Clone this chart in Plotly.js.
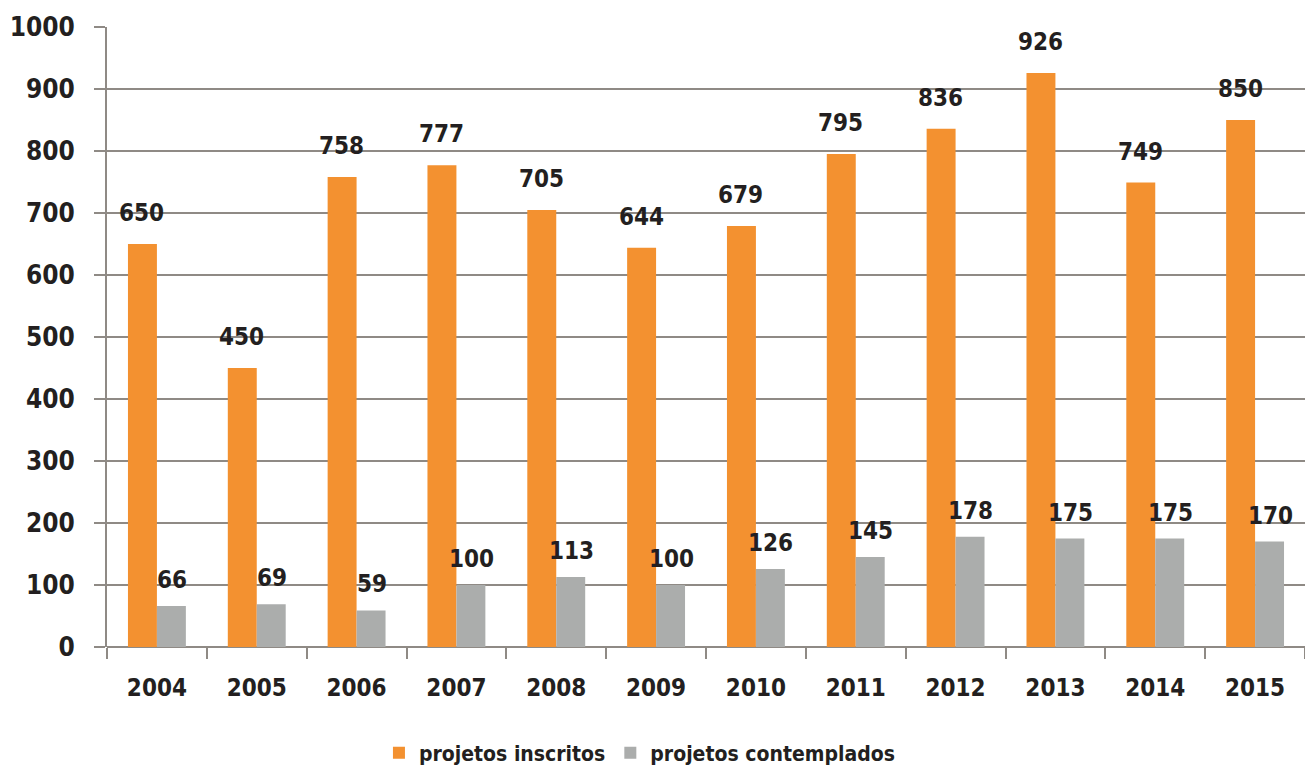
<!DOCTYPE html>
<html>
<head>
<meta charset="utf-8">
<script src="https://cdn.plot.ly/plotly-3.0.1.min.js"></script>
<style>html,body{margin:0;padding:0;background:#fff;}#chart{width:1305px;height:770px;}</style>
</head>
<body>
<div id="chart"></div>
<script>
var years = ['2004','2005','2006','2007','2008','2009','2010','2011','2012','2013','2014','2015'];
var inscritos = [650,450,758,777,705,644,679,795,836,926,749,850];
var contemplados = [66,69,59,100,113,100,126,145,178,175,175,170];
var yTicks = [0,100,200,300,400,500,600,700,800,900,1000];

var FONT = '"DejaVu Sans Condensed", "DejaVu Sans", sans-serif';
var TXT = '#231f20';
var GRID = '#8f8a85';

var traces = [
  {type:'bar', name:'projetos inscritos', x:years, y:inscritos, marker:{color:'#f39130'}, hoverinfo:'none'},
  {type:'bar', name:'projetos contemplados', x:years, y:contemplados, marker:{color:'#abadac'}, hoverinfo:'none'}
];

var annotations = [];
years.forEach(function(yr, i){
  annotations.push({x:i, y:inscritos[i], xref:'x', yref:'y', text:String(inscritos[i]), showarrow:false,
    xshift:-15, yshift:15, yanchor:'bottom', font:{family:FONT, size:24, color:TXT, weight:'bold'}});
  annotations.push({x:i, y:contemplados[i], xref:'x', yref:'y', text:String(contemplados[i]), showarrow:false,
    xshift:15, yshift:10, yanchor:'bottom', font:{family:FONT, size:24, color:TXT, weight:'bold'}});
});

var layout = {
  width:1305, height:770,
  margin:{l:107, r:0, t:27, b:123, autoexpand:false},
  paper_bgcolor:'#fff', plot_bgcolor:'#fff',
  barmode:'group', bargap:0.42, bargroupgap:0,
  showlegend:true,
  legend:{orientation:'h', xref:'container', yref:'container', x:0.49, xanchor:'center', y:0.022, yanchor:'middle',
    font:{family:FONT, size:21, color:TXT, weight:'bold'}, itemwidth:30},
  xaxis:{type:'category', range:[-0.5, years.length-0.5], showgrid:false, showline:false, zeroline:false,
    ticks:'outside', tickson:'boundaries', ticklen:11, tickwidth:2, tickcolor:GRID,
    tickfont:{family:FONT, size:24, color:TXT, weight:'bold'}, tickangle:0, ticklabelstandoff:24},
  yaxis:{range:[0,1000], tickvals:yTicks, ticktext:yTicks.map(String),
    showgrid:true, gridcolor:GRID, gridwidth:2, showline:true, linecolor:GRID, linewidth:2,
    zeroline:true, zerolinecolor:GRID, zerolinewidth:2,
    ticks:'outside', ticklen:11, tickwidth:2, tickcolor:GRID,
    tickfont:{family:FONT, size:26, color:TXT, weight:'bold'}, ticklabelstandoff:14},
  annotations:annotations
};

Plotly.newPlot('chart', traces, layout, {displayModeBar:false, staticPlot:true});
</script>
</body>
</html>
